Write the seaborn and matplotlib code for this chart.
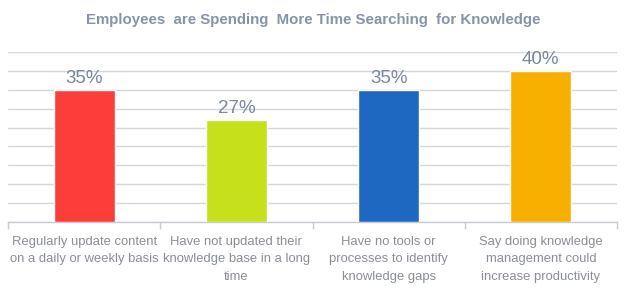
import matplotlib
matplotlib.use("Agg")
import matplotlib.pyplot as plt
import seaborn as sns
import pandas as pd
from matplotlib.ticker import FixedLocator, MultipleLocator

categories = [
    "Regularly update content\non a daily or weekly basis",
    "Have not updated their\nknowledge base in a long\ntime",
    "Have no tools or\nprocesses to identify\nknowledge gaps",
    "Say doing knowledge\nmanagement could\nincrease productivity",
]
values = [35, 27, 35, 40]
value_labels = ["35%", "27%", "35%", "40%"]
colors = ["#FC3D3A", "#C6E01C", "#1E68C2", "#F8B000"]
title = "Employees  are Spending  More Time Searching  for Knowledge"

sns.set_theme(style="white")
plt.rcParams["font.family"] = ["Liberation Sans", "DejaVu Sans"]

df = pd.DataFrame({"cat": categories, "val": values})

fig = plt.figure(figsize=(6.24, 2.88), dpi=100)
ax = fig.add_axes([8 / 624, 66 / 288, 609 / 624, 170 / 288])

sns.barplot(data=df, x="cat", y="val", hue="cat", palette=colors,
            width=0.4, legend=False, ax=ax, saturation=1, zorder=3)

ax.set_ylim(0, 45)
ax.set_xlim(-0.5, 3.5)
ax.yaxis.set_major_locator(MultipleLocator(5))
ax.grid(axis="y", color="#D3D6DD", linewidth=1.0, zorder=0)
ax.set_axisbelow(True)
ax.set_yticklabels([])
ax.tick_params(axis="y", length=0)
for s in ["top", "right", "left"]:
    ax.spines[s].set_visible(False)
ax.spines["bottom"].set_color("#C8CBD2")
ax.spines["bottom"].set_linewidth(1.0)

ax.set_xlabel("")
ax.set_ylabel("")
ax.set_xticks(range(len(categories)))
ax.set_xticklabels(categories, fontsize=9.4, color="#8A8E96", linespacing=1.6)
ax.tick_params(axis="x", which="major", length=0, pad=10)
ax.xaxis.set_minor_locator(FixedLocator([-0.5, 0.5, 1.5, 2.5, 3.5]))
ax.tick_params(axis="x", which="minor", length=5, width=1, color="#C8CBD2", direction="out", bottom=True)

for i, (v, lab) in enumerate(zip(values, value_labels)):
    ax.text(i, v + 0.8, lab, ha="center", va="bottom", fontsize=13.5, color="#7C879B", zorder=4)

fig.text(313 / 624, 1 - 20 / 288, title, ha="center", va="center",
         fontsize=10.8, fontweight="bold", color="#8793A8")

fig.savefig("out.png", dpi=100)
